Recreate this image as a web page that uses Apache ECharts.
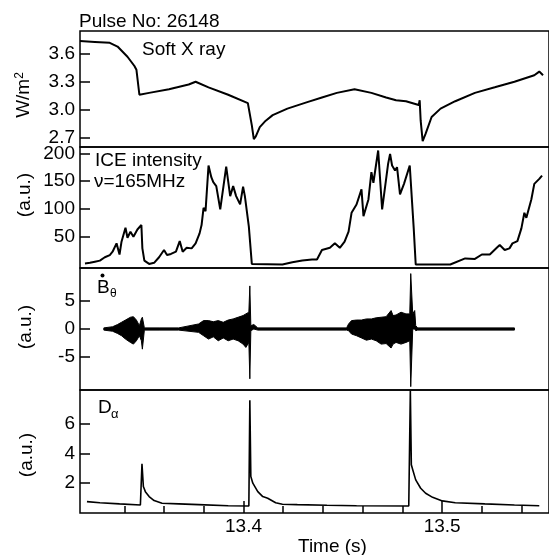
<!DOCTYPE html>
<html>
<head>
<meta charset="utf-8">
<script src="https://cdn.jsdelivr.net/npm/echarts@6/dist/echarts.min.js"></script>
<style>
  html, body { margin: 0; padding: 0; background: #fff; }
  #chart { width: 549px; height: 555px; }
</style>
</head>
<body>
<div id="chart"></div>
<script>
// time axis shared by the four panels
const timeMin = 13.3177;
const timeMax = 13.5538;
const timeMinorTicks = [13.34, 13.36, 13.38, 13.42, 13.44, 13.46, 13.48, 13.52, 13.54];
const timeMajorTicks = [13.4, 13.5];

// soft X ray (W/m2)
const sxrTime = [13.3177, 13.3252, 13.3327, 13.3366, 13.3416, 13.3451, 13.3461, 13.3476, 13.3486, 13.3525,
  13.3625, 13.3724, 13.3759, 13.3824, 13.3923, 13.4022, 13.4032, 13.4042, 13.4052, 13.4062,
  13.4082, 13.4112, 13.4147, 13.4221, 13.4321, 13.4395, 13.4470, 13.4559, 13.4644, 13.4718,
  13.4768, 13.4818, 13.4882, 13.4887, 13.4892, 13.4902, 13.4917, 13.4947, 13.4992, 13.5066,
  13.5165, 13.5265, 13.5364, 13.5464, 13.5489, 13.5508];
const sxrValue = [3.74, 3.73, 3.72, 3.68, 3.57, 3.47, 3.43, 3.16, 3.145, 3.18,
  3.22, 3.27, 3.30, 3.24, 3.16, 3.07, 3.08, 2.83, 2.68, 2.71,
  2.81, 2.88, 2.94, 3.01, 3.08, 3.13, 3.18, 3.22, 3.18, 3.13,
  3.10, 3.09, 3.05, 3.10, 2.88, 2.66, 2.74, 2.92, 3.01, 3.09,
  3.18, 3.24, 3.30, 3.37, 3.41, 3.37];
const sxrTicks = [2.7, 3.0, 3.3, 3.6];

// ICE intensity, 165 MHz (a.u.)
const iceTime = [13.3202, 13.3227, 13.3252, 13.3277, 13.3302, 13.3327, 13.3341, 13.3361, 13.3376, 13.3386,
  13.3406, 13.3416, 13.3431, 13.3446, 13.3466, 13.3486, 13.3491, 13.3501, 13.3525, 13.3550,
  13.3575, 13.3600, 13.3615, 13.3635, 13.3660, 13.3679, 13.3694, 13.3714, 13.3739, 13.3759,
  13.3779, 13.3789, 13.3799, 13.3809, 13.3824, 13.3838, 13.3848, 13.3863, 13.3883, 13.3913,
  13.3933, 13.3948, 13.3963, 13.3983, 13.3998, 13.4007, 13.4027, 13.4042, 13.4196, 13.4246,
  13.4296, 13.4345, 13.4370, 13.4395, 13.4435, 13.4460, 13.4485, 13.4509, 13.4529, 13.4544,
  13.4569, 13.4594, 13.4604, 13.4629, 13.4644, 13.4654, 13.4678, 13.4698, 13.4728, 13.4738,
  13.4748, 13.4763, 13.4773, 13.4788, 13.4808, 13.4837, 13.4857, 13.4867, 13.5041, 13.5116,
  13.5165, 13.5200, 13.5240, 13.5275, 13.5290, 13.5315, 13.5339, 13.5354, 13.5379, 13.5399,
  13.5414, 13.5424, 13.5449, 13.5464, 13.5489, 13.5503];
const iceValue = [2, 3, 5, 7, 13, 17, 23, 38, 18, 41,
  66, 48, 59, 50, 63, 71, 29, 7, 1, 3,
  13, 26, 17, 19, 23, 42, 23, 30, 29, 38,
  56, 71, 102, 96, 178, 157, 148, 141, 99, 176,
  123, 141, 123, 108, 140, 123, 68, 1, 0, 4,
  7, 9, 9, 26, 30, 38, 30, 41, 59, 93,
  108, 135, 87, 117, 166, 147, 205, 99, 181, 199,
  178, 169, 175, 126, 145, 178, 65, 0, 0, 11,
  10, 18, 18, 30, 35, 26, 29, 38, 42, 65,
  93, 84, 117, 145, 154, 160];
const iceTicks = [50, 100, 150, 200];

// B-dot theta, envelope of the magnetic oscillations (a.u.)
const bdotTime = [13.3297, 13.3341, 13.3366, 13.3386, 13.3406, 13.3431, 13.3446, 13.3461, 13.3476, 13.3486,
  13.3491, 13.3501, 13.3575, 13.3674, 13.3774, 13.3799, 13.3824, 13.3848, 13.3873, 13.3898,
  13.3923, 13.3948, 13.3973, 13.3998, 13.4012, 13.4027, 13.4032, 13.4037, 13.4052, 13.4072,
  13.4519, 13.4529, 13.4544, 13.4569, 13.4594, 13.4619, 13.4644, 13.4668, 13.4693, 13.4718,
  13.4743, 13.4753, 13.4768, 13.4793, 13.4818, 13.4837, 13.4842, 13.4852, 13.4862, 13.4867,
  13.4877, 13.5364];
const bdotUpper = [0.2, 0.4, 0.8, 1.2, 1.6, 2.1, 2.2, 1.6, 0.6, 1.8,
  2.1, 0.2, 0.2, 0.2, 0.9, 1.5, 1.5, 1.3, 1.5, 1.2,
  1.6, 1.8, 2.1, 2.4, 2.7, 3.0, 7.7, 0.6, 0.8, 0.2,
  0.2, 0.9, 1.5, 1.6, 1.6, 1.8, 1.8, 2.0, 2.1, 2.2,
  3.3, 2.4, 2.5, 3.0, 2.7, 2.7, 9.9, 2.7, 3.3, 0.6,
  0.2, 0.2];
const bdotLower = [-0.2, -0.4, -0.8, -1.2, -1.8, -2.4, -2.7, -2.1, -1.2, -2.1,
  -3.6, -0.2, -0.2, -0.2, -0.6, -1.2, -1.8, -1.4, -2.1, -1.6,
  -2.1, -1.8, -2.1, -2.7, -3.3, -2.4, -8.9, -0.3, 0, -0.2,
  -0.2, -0.3, -0.9, -1.2, -1.6, -2.0, -1.8, -2.1, -2.7, -2.6,
  -3.4, -2.7, -2.4, -2.7, -2.4, -2.1, -10.3, 0, 0, -0.3,
  -0.2, -0.2];
const bdotTicks = [-5, 0, 5];

// D-alpha (a.u.)
const daTime = [13.3212, 13.3277, 13.3376, 13.3481, 13.3489, 13.3496, 13.3506, 13.3525, 13.3550, 13.3590,
  13.3674, 13.3774, 13.3923, 13.4027, 13.4032, 13.4037, 13.4047, 13.4072, 13.4097, 13.4122,
  13.4162, 13.4196, 13.4271, 13.4420, 13.4569, 13.4832, 13.4840, 13.4845, 13.4852, 13.4867,
  13.4892, 13.4917, 13.4952, 13.5001, 13.5066, 13.5215, 13.5364, 13.5489];
const daValue = [0.76, 0.69, 0.61, 0.54, 3.3, 1.77, 1.43, 1.10, 0.83, 0.65,
  0.61, 0.56, 0.49, 0.47, 7.56, 2.44, 2.0, 1.43, 1.10, 0.99,
  0.69, 0.59, 0.56, 0.52, 0.49, 0.47, 8.2, 3.23, 2.9, 2.22,
  1.66, 1.32, 1.05, 0.81, 0.69, 0.61, 0.54, 0.49];
const daTicks = [2, 4, 6];

const zip = (xs, ys) => xs.map((x, i) => [x, ys[i]]);

const FONT = '"Liberation Sans", Arial, Helvetica, sans-serif';
const INK = '#000';

const grids = [
  { left: 80, right: -6, top: 31, height: 116 },
  { left: 80, right: -6, top: 147, height: 121 },
  { left: 80, right: -6, top: 268, height: 122 },
  { left: 80, right: -6, top: 390, height: 123 }
].map(g => Object.assign({ show: true, borderColor: INK, borderWidth: 1.5, containLabel: false }, g));

function plainX(gridIndex) {
  return {
    type: 'value', gridIndex, min: timeMin, max: timeMax, position: 'bottom',
    axisLine: { show: false, onZero: false }, axisTick: { show: false },
    axisLabel: { show: false }, splitLine: { show: false }
  };
}

function valueY(gridIndex, min, max, ticks, digits) {
  return {
    type: 'value', gridIndex, min, max, position: 'left',
    axisLine: { show: false, onZero: false },
    axisTick: { show: true, inside: true, length: 10, customValues: ticks, lineStyle: { color: INK, width: 1.5 } },
    axisLabel: {
      show: true, customValues: ticks, margin: 5, color: INK, fontSize: 19, fontFamily: FONT,
      formatter: v => v.toFixed(digits)
    },
    splitLine: { show: false }
  };
}

const xMinor = plainX(3);
xMinor.axisTick = { show: true, inside: true, length: 7, customValues: timeMinorTicks, lineStyle: { color: INK, width: 1.5 } };

const xMajor = plainX(3);
xMajor.axisTick = { show: true, inside: true, length: 12, customValues: timeMajorTicks, lineStyle: { color: INK, width: 1.5 } };
xMajor.axisLabel = {
  show: true, customValues: timeMajorTicks, margin: 4, color: INK, fontSize: 19, fontFamily: FONT,
  formatter: v => v.toFixed(1)
};

function lineSeries(xIndex, yIndex, data, width) {
  return {
    type: 'line', xAxisIndex: xIndex, yAxisIndex: yIndex, data,
    showSymbol: false, symbol: 'none', smooth: false,
    lineStyle: { color: INK, width }, animation: false
  };
}

function txt(text, x, y, extra) {
  return Object.assign({
    type: 'text', x, y,
    style: { text, fill: INK, fontSize: 19, fontFamily: FONT, verticalAlign: 'middle', align: 'left' }
  }, extra || {});
}

function vtxt(text, x, y) {
  return {
    type: 'text', x, y, rotation: Math.PI / 2,
    style: {
      text, fill: INK, fontSize: 19, fontFamily: FONT, align: 'center', verticalAlign: 'middle',
      rich: { sup: { fontSize: 12, verticalAlign: 'top', padding: [0, 0, 8, 0], fontFamily: FONT } }
    }
  };
}

const chart = echarts.init(document.getElementById('chart'), null, { renderer: 'canvas' });
chart.setOption({
  animation: false,
  backgroundColor: '#fff',
  grid: grids,
  xAxis: [plainX(0), plainX(1), plainX(2), xMinor, xMajor],
  yAxis: [
    valueY(0, 2.596, 3.848, sxrTicks, 1),
    valueY(1, -6.3, 211.3, iceTicks, 0),
    valueY(2, -10.9, 10.9, bdotTicks, 0),
    valueY(3, 0, 8.24, daTicks, 0)
  ],
  series: [
    lineSeries(0, 0, zip(sxrTime, sxrValue), 2),
    lineSeries(1, 1, zip(iceTime, iceValue), 2),
    {
      type: 'custom', xAxisIndex: 2, yAxisIndex: 2, animation: false,
      data: [[bdotTime[0], 0]],
      renderItem: function (params, api) {
        const pts = [];
        for (let i = 0; i < bdotTime.length; i++) pts.push(api.coord([bdotTime[i], bdotUpper[i]]));
        for (let i = bdotTime.length - 1; i >= 0; i--) pts.push(api.coord([bdotTime[i], bdotLower[i]]));
        return { type: 'polygon', shape: { points: pts }, style: { fill: INK, stroke: INK, lineWidth: 1 } };
      }
    },
    lineSeries(3, 3, zip(daTime, daValue), 1.6)
  ],
  graphic: [
    txt('Pulse No: 26148', 79, 22),
    txt('Soft X ray', 142, 50),
    txt('ICE intensity', 95, 160.5),
    txt('\u03bd=165MHz', 94, 181.5),
    txt('B', 97, 288),
    { type: 'circle', shape: { cx: 102.5, cy: 275.5, r: 2 }, style: { fill: INK } },
    txt('\u03b8', 110, 294, { style: { text: '\u03b8', fill: INK, fontSize: 12, fontFamily: FONT, verticalAlign: 'middle', align: 'left' } }),
    txt('D', 98, 408),
    txt('\u03b1', 111, 414, { style: { text: '\u03b1', fill: INK, fontSize: 13, fontFamily: FONT, verticalAlign: 'middle', align: 'left' } }),
    vtxt('W/m{sup|2}', 24, 95),
    vtxt('(a.u.)', 25, 195),
    vtxt('(a.u.)', 26, 327),
    vtxt('(a.u.)', 27, 455),
    txt('Time (s)', 298, 547)
  ]
});
</script>
</body>
</html>
